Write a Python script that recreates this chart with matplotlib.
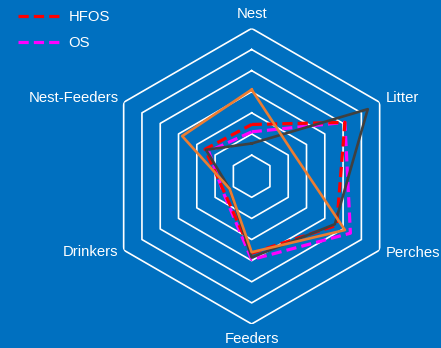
import matplotlib
matplotlib.use('Agg')
import numpy as np
import matplotlib.pyplot as plt

plt.rcParams['font.family'] = ['Liberation Sans', 'DejaVu Sans']

# categorias (sentido horário a partir do topo)
categorias = ['Nest', 'Litter', 'Perches', 'Feeders', 'Drinkers', 'Nest-Feeders']

# valores (unidade = um anel da grade)
hfos = [2.45, 5.1, 4.65, 3.65, 1.5, 2.55]
os_vals = [2.1, 5.1, 5.4, 3.95, 1.55, 2.35]
serie_cinza = [1.55, 6.35, 4.55, 3.85, 1.2, 2.5]
serie_laranja = [4.1, 2.25, 5.1, 3.6, 1.2, 3.8]

aneis = [1, 2, 3, 4, 5, 6, 7]

azul = '#0070C0'
fig = plt.figure(figsize=(4.41, 3.48), dpi=100, facecolor=azul)
ax = fig.add_axes([0.2355, 0.069, 0.6703, 0.8494], projection='polar')
ax.set_facecolor('none')
ax.set_theta_offset(np.pi / 2)
ax.set_theta_direction(-1)
ax.set_ylim(0, 7)
ax.grid(False)
ax.set_xticks([])
ax.set_yticks([])
ax.spines['polar'].set_visible(False)

ang = np.arange(len(categorias)) * 2 * np.pi / len(categorias)
ang_f = np.append(ang, ang[0])


def fechar(v):
    return np.append(v, v[0])


# grade hexagonal
for r in aneis:
    ax.plot(ang_f, [r] * len(ang_f), color='white', lw=1.2, zorder=1)

l1, = ax.plot(ang_f, fechar(hfos), color='#FF0000', lw=2.3, dashes=(3.2, 1.6),
              label='HFOS', zorder=3)
l2, = ax.plot(ang_f, fechar(os_vals), color='#FF00FF', lw=2.3, dashes=(3.2, 1.6),
              label='OS', zorder=2)
ax.plot(ang_f, fechar(serie_cinza), color='#404040', lw=1.9, zorder=4)
ax.plot(ang_f, fechar(serie_laranja), color='#ED7D31', lw=1.9, zorder=5)

# rótulos dos eixos
posicoes = [((0, 7), 'center', 'bottom'),
            ((6, 4), 'left', 'center'),
            ((6, -3), 'left', 'center'),
            ((0, -8), 'center', 'top'),
            ((-5, -2), 'right', 'center'),
            ((-5, 4), 'right', 'center')]
for a, nome, (off, ha, va) in zip(ang, categorias, posicoes):
    ax.annotate(nome, xy=(a, 7), xytext=off, textcoords='offset pixels',
                ha=ha, va=va, color='white', fontsize=10.7, annotation_clip=False)

fig.legend(handles=[l1, l2], loc='upper left', bbox_to_anchor=(0.041, 0.972),
           frameon=False, fontsize=10.7, labelcolor='white', handlelength=2.95,
           handletextpad=0.45, labelspacing=0.85, borderpad=0, borderaxespad=0)

plt.savefig('out.png', dpi=100, facecolor=azul)
